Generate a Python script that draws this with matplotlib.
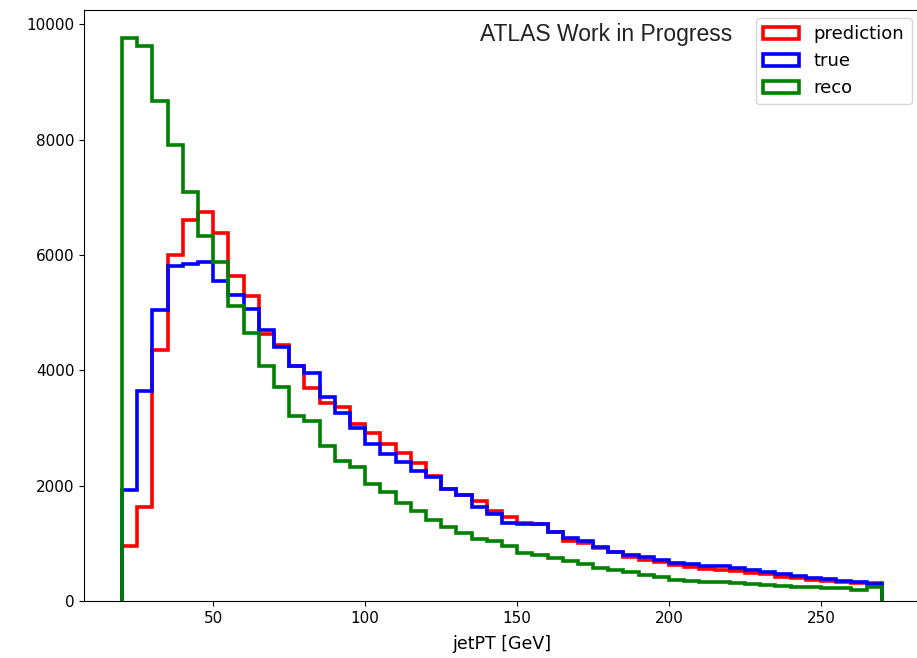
import numpy as np
import matplotlib
matplotlib.use('Agg')
import matplotlib.pyplot as plt

# jet pT binning [GeV]
bin_edges = np.arange(20, 271, 5)

# bin contents
prediction = [960, 1625, 4360, 5995, 6610, 6740, 6375, 5630, 5285, 4625,
              4440, 4080, 3690, 3440, 3360, 3065, 2905, 2725, 2560, 2400,
              2170, 1950, 1835, 1730, 1565, 1455, 1355, 1330, 1200, 1040,
              1000, 915, 850, 760, 710, 680, 625, 590, 560, 540,
              515, 490, 460, 425, 395, 365, 345, 330, 315, 320]
true = [1930, 3645, 5040, 5800, 5840, 5880, 5555, 5310, 5055, 4690,
        4395, 4075, 3945, 3530, 3255, 3000, 2730, 2545, 2410, 2255,
        2150, 1935, 1830, 1625, 1510, 1360, 1340, 1335, 1200, 1095,
        1045, 940, 855, 795, 755, 705, 660, 635, 610, 600,
        575, 545, 505, 470, 435, 405, 380, 355, 335, 300]
reco = [9760, 9615, 8670, 7900, 7095, 6320, 5880, 5110, 4645, 4080,
        3715, 3215, 3115, 2680, 2435, 2315, 2025, 1888, 1700, 1560,
        1400, 1280, 1175, 1080, 1045, 960, 830, 795, 745, 700,
        645, 580, 535, 505, 450, 420, 370, 350, 335, 330,
        320, 300, 275, 260, 247, 235, 230, 228, 190, 245]

labels = ['prediction', 'true', 'reco']
colors = ['red', 'blue', 'green']

fig = plt.figure(figsize=(9.17, 6.58), dpi=100)
# the original image is cropped just inside the right spine
ax = fig.add_axes([0.0916, 0.0866, 0.9115, 0.8984])

centers = bin_edges[:-1] + 2.5
for vals, lab, col in zip([prediction, true, reco], labels, colors):
    ax.hist(centers, bins=bin_edges, weights=vals, histtype='step',
            color=col, linewidth=2.6, label=lab)

ax.set_xlabel('jetPT [GeV]', fontsize=12.5, labelpad=7)
ax.tick_params(axis='both', labelsize=11)
ax.set_xticks([50, 100, 150, 200, 250])
ax.legend(loc='upper right', fontsize=13, borderaxespad=0.45)
ax.text(0.474, 0.959, 'ATLAS Work in Progress', transform=ax.transAxes,
        ha='left', va='center', fontsize=16.5, family='Liberation Sans', color='#222222')

plt.savefig('out.png', dpi=100)
